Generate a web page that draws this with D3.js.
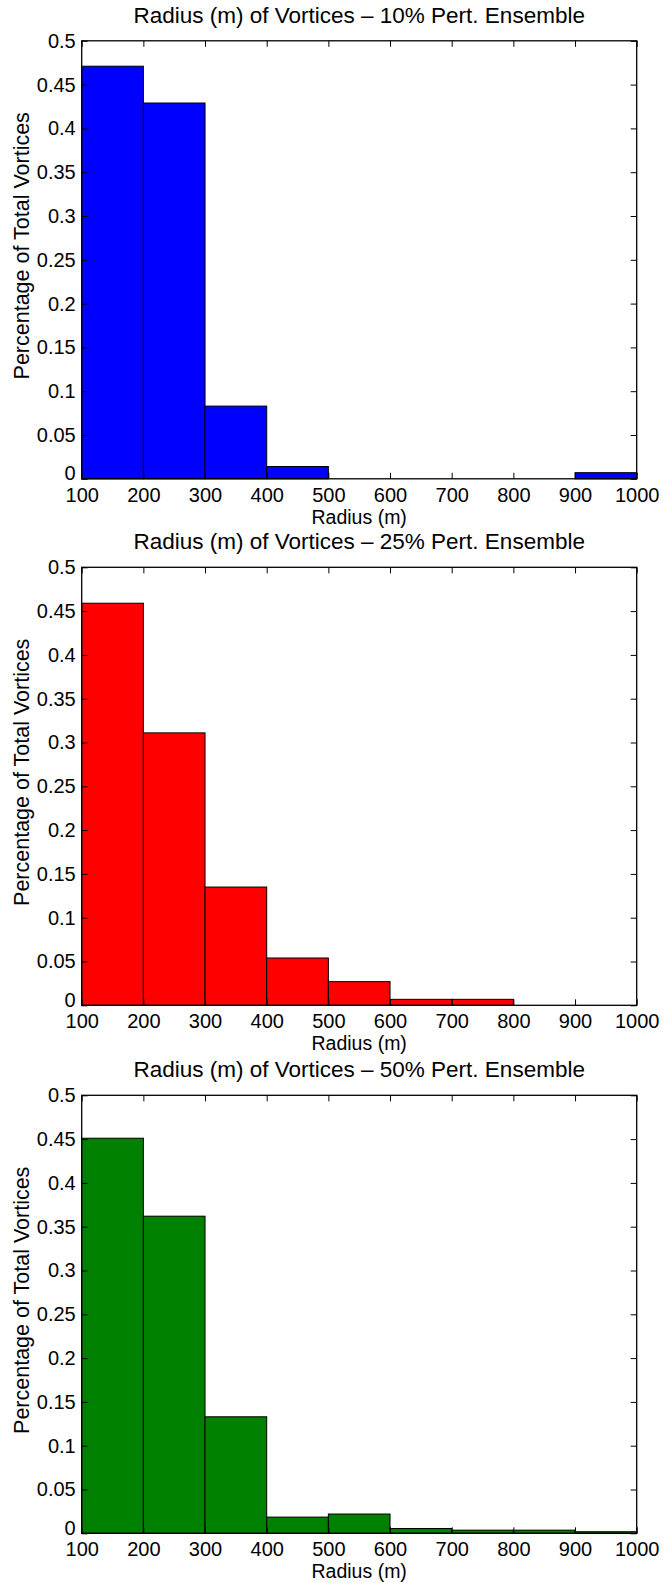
<!DOCTYPE html>
<html>
<head>
<meta charset="utf-8">
<script src="https://cdn.jsdelivr.net/npm/d3@7"></script>
<style>
  html, body { margin: 0; padding: 0; background: #ffffff; }
  svg { display: block; }
  text { font-family: "Liberation Sans", Arial, Helvetica, sans-serif; fill: #000; }
</style>
</head>
<body>
<svg id="chart" width="663" height="1583"></svg>
<script>
// Histogram bin edges for vortex radius (m)
const binEdges = [100, 200, 300, 400, 500, 600, 700, 800, 900, 1000];

// Fraction of total vortices per radius bin, one array per ensemble
const share10 = [0.471, 0.429, 0.083, 0.014, 0, 0, 0, 0, 0.007];
const share25 = [0.459, 0.311, 0.135, 0.054, 0.027, 0.0068, 0.0068, 0, 0];
const share50 = [0.451, 0.362, 0.133, 0.0185, 0.022, 0.0055, 0.0036, 0.0036, 0.0018];

const panelTitles = [
  "Radius (m) of Vortices \u2013 10% Pert. Ensemble",
  "Radius (m) of Vortices \u2013 25% Pert. Ensemble",
  "Radius (m) of Vortices \u2013 50% Pert. Ensemble"
];
const panelColors = ["#0000ff", "#ff0000", "#008000"];

const xTicks = [100, 200, 300, 400, 500, 600, 700, 800, 900, 1000];
const yTicks = [0, 0.05, 0.1, 0.15, 0.2, 0.25, 0.3, 0.35, 0.4, 0.45, 0.5];
const yTickLabels = ["0", "0.05", "0.1", "0.15", "0.2", "0.25", "0.3", "0.35", "0.4", "0.45", "0.5"];

const xLabel = "Radius (m)";
const yLabel = "Percentage of Total Vortices";

const panels = [share10, share25, share50];

const svg = d3.select("#chart");
const plotLeft = 81.7, plotRight = 636.7;
const plotTops = [40.8, 567.3, 1095.3];
const plotHeight = 438;
const tickLen = 6;

const x = d3.scaleLinear().domain([100, 1000]).range([plotLeft, plotRight]);

panels.forEach((values, i) => {
  const top = plotTops[i];
  const bottom = top + plotHeight;
  const y = d3.scaleLinear().domain([0, 0.5]).range([bottom, top]);
  const g = svg.append("g");

  const bins = values.map((v, k) => ({ x0: binEdges[k], x1: binEdges[k + 1], v }));

  // bars
  g.append("g").selectAll("rect")
    .data(bins)
    .join("rect")
    .attr("x", d => x(d.x0))
    .attr("y", d => y(d.v))
    .attr("width", d => x(d.x1) - x(d.x0))
    .attr("height", d => y(0) - y(d.v))
    .attr("fill", panelColors[i])
    .attr("stroke", "#000")
    .attr("stroke-width", 1);

  // bottom axis with labels, ticks pointing inward
  const ax = g.append("g")
    .attr("transform", `translate(0,${bottom})`)
    .call(d3.axisBottom(x).tickValues(xTicks).tickSizeInner(-tickLen).tickSizeOuter(0).tickPadding(9).tickFormat(d3.format("d")));
  // left axis
  const ay = g.append("g")
    .attr("transform", `translate(${plotLeft},0)`)
    .call(d3.axisLeft(y).tickValues(yTicks).tickSizeInner(-tickLen).tickSizeOuter(0).tickPadding(6)
      .tickFormat((d, k) => yTickLabels[k]));
  // top and right axes, ticks only
  const at = g.append("g")
    .attr("transform", `translate(0,${top})`)
    .call(d3.axisTop(x).tickValues(xTicks).tickSizeInner(-tickLen).tickSizeOuter(0).tickFormat(""));
  const ar = g.append("g")
    .attr("transform", `translate(${plotRight},0)`)
    .call(d3.axisRight(y).tickValues(yTicks).tickSizeInner(-tickLen).tickSizeOuter(0).tickFormat(""));

  [ax, ay, at, ar].forEach(a => {
    a.select(".domain").remove();
    a.selectAll(".tick line").attr("stroke", "#000").attr("stroke-width", 1);
    a.selectAll("text").attr("font-size", 20).attr("font-family", "Liberation Sans, Arial, sans-serif").attr("fill", "#000");
  });

  // the zero label sits a little above the baseline, clear of the x labels
  ay.selectAll(".tick").filter(d => d === 0).select("text").attr("dy", "0.05em");

  // axes box
  g.append("rect")
    .attr("x", plotLeft).attr("y", top)
    .attr("width", plotRight - plotLeft).attr("height", plotHeight)
    .attr("fill", "none").attr("stroke", "#000").attr("stroke-width", 1.3);

  // title
  g.append("text")
    .attr("x", (plotLeft + plotRight) / 2)
    .attr("y", top - 18)
    .attr("text-anchor", "middle")
    .attr("font-size", 22.5)
    .text(panelTitles[i]);

  // x label
  g.append("text")
    .attr("x", (plotLeft + plotRight) / 2)
    .attr("y", bottom + 45)
    .attr("text-anchor", "middle")
    .attr("font-size", 19.5)
    .text(xLabel);

  // y label
  g.append("text")
    .attr("transform", `translate(29,${top + 205}) rotate(-90)`)
    .attr("text-anchor", "middle")
    .attr("font-size", 21.5)
    .text(yLabel);
});
</script>
</body>
</html>
